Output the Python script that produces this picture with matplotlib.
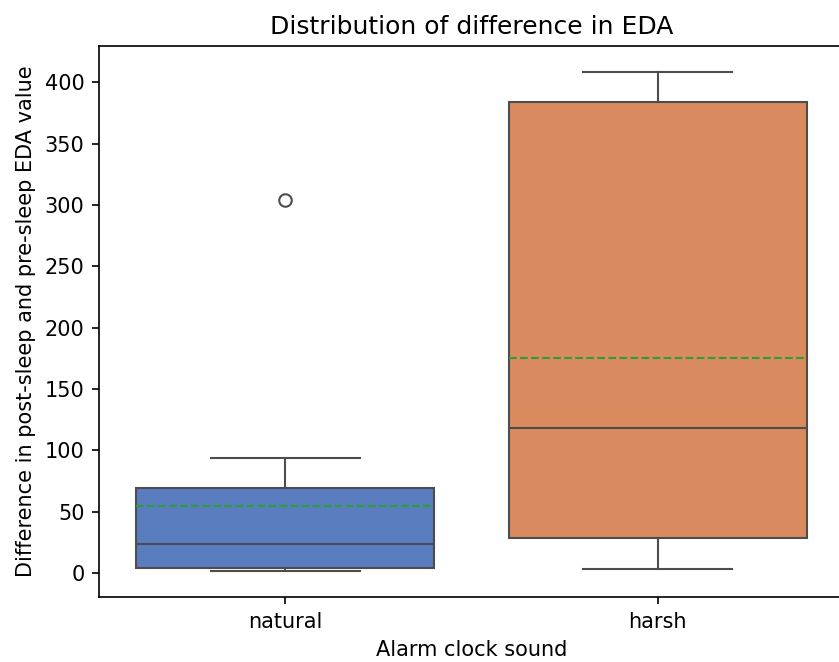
import matplotlib
matplotlib.use("Agg")
from matplotlib import pyplot as plt
import seaborn as sns

# values
groups = ['natural', 'harsh']
whislo = [1.9, 3.3]
q1 = [4.3, 28.8]
med = [23.6, 117.9]
q3 = [69.0, 384.0]
whishi = [93.4, 408.0]
means = [54.3, 175.4]
fliers = [[304.3], []]

def make_stats():
    stats = []
    for i, g in enumerate(groups):
        stats.append(dict(label=g, whislo=whislo[i], q1=q1[i], med=med[i],
                          q3=q3[i], whishi=whishi[i], mean=means[i],
                          fliers=fliers[i]))
    return stats

def main():
    plt.rcParams['font.family'] = ['DejaVu Sans']
    plt.rcParams['font.size'] = 15
    plt.rcParams['axes.linewidth'] = 1.2
    plt.rcParams['xtick.major.size'] = 5.25
    plt.rcParams['ytick.major.size'] = 5.25
    plt.rcParams['xtick.major.width'] = 1.2
    plt.rcParams['ytick.major.width'] = 1.2
    plt.rcParams['xtick.major.pad'] = 5.25
    plt.rcParams['ytick.major.pad'] = 5.25
    plt.rcParams['axes.labelpad'] = 6
    plt.rcParams['axes.titlepad'] = 9
    fig = plt.figure(figsize=(8.39, 6.62), dpi=100)
    ax = fig.add_axes([99/839, 1-597/662, 745/839, 551/662])

    pal = [sns.desaturate(c, 0.75) for c in sns.color_palette('muted', 2)]
    line = '#4d4d4d'
    bp = ax.bxp(make_stats(), positions=range(len(groups)), widths=0.8,
                patch_artist=True, showmeans=True, meanline=True,
                boxprops=dict(edgecolor=line, linewidth=1.5),
                whiskerprops=dict(color=line, linewidth=1.5),
                capprops=dict(color=line, linewidth=1.5),
                medianprops=dict(color=line, linewidth=1.5),
                meanprops=dict(color='#2ca02c', linestyle='--', linewidth=1.5),
                flierprops=dict(marker='o', markerfacecolor='none',
                                markeredgecolor=line, markersize=9,
                                markeredgewidth=1.5))
    for patch, c in zip(bp['boxes'], pal):
        patch.set_facecolor(c)
    for cap in bp['caps']:
        x = cap.get_xdata()
        mid = (x[0] + x[1]) / 2
        cap.set_xdata([mid - 0.2, mid + 0.2])

    ax.set_xlim(-0.5, 1.5)
    ax.set_ylim(-19.5, 429.5)
    ax.set_xticks(range(len(groups)))
    ax.set_xticklabels(groups)
    ax.set_xlabel('Alarm clock sound')
    ax.set_ylabel('Difference in post-sleep and pre-sleep EDA value')
    ax.set_title('Distribution of difference in EDA', fontsize=18)
    fig.savefig('out.png', dpi=100)

if __name__ == '__main__':
    main()
